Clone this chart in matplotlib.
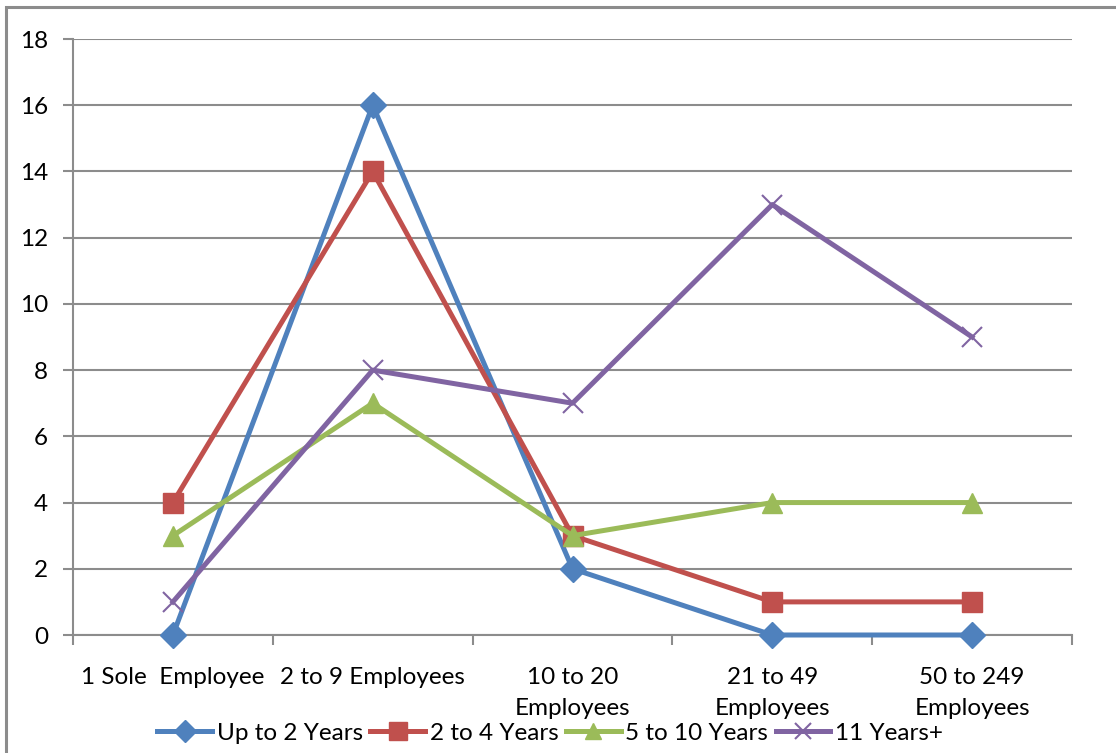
import matplotlib
matplotlib.use("Agg")
import matplotlib.pyplot as plt
from matplotlib.patches import Rectangle

categories = ["1 Sole  Employee", "2 to 9 Employees", "10 to 20\nEmployees",
              "21 to 49\nEmployees", "50 to 249\nEmployees"]
up_to_2 = [0, 16, 2, 0, 0]
two_to_4 = [4, 14, 3, 1, 1]
five_to_10 = [3, 7, 3, 4, 4]
eleven_plus = [1, 8, 7, 13, 9]
y_ticks = [0, 2, 4, 6, 8, 10, 12, 14, 16, 18]

plt.rcParams["font.family"] = ["Lato", "DejaVu Sans"]
FS = 17.5

fig = plt.figure(figsize=(11.16, 7.53), dpi=100)
ax = fig.add_axes([73 / 1116, 1 - 635 / 753, (1072 - 73) / 1116, (635 - 39) / 753])

grid_c = "#8c8c8c"
x = list(range(len(categories)))
series = [
    ("Up to 2 Years", up_to_2, "#4F81BD", "D", 13),
    ("2 to 4 Years", two_to_4, "#C0504D", "s", 14.5),
    ("5 to 10 Years", five_to_10, "#9BBB59", "^", 14),
    ("11 Years+", eleven_plus, "#8064A2", "x", 14),
]
for name, vals, col, mk, ms in series:
    kw = dict(markeredgewidth=1.5) if mk == "x" else dict(markeredgecolor=col)
    ax.plot(x, vals, color=col, lw=3.6, marker=mk, markersize=ms,
            markerfacecolor=col, label=name, zorder=3, clip_on=False, **kw)

ax.set_xlim(-0.5, 4.5)
ax.set_ylim(0, 18)
ax.set_yticks(y_ticks)
ax.yaxis.grid(True, color=grid_c, lw=1.5)
ax.set_axisbelow(True)
for s in ("top", "right"):
    ax.spines[s].set_visible(False)
for s in ("left", "bottom"):
    ax.spines[s].set_color(grid_c)
    ax.spines[s].set_linewidth(1.5)

ax.tick_params(axis="y", direction="out", length=7, width=1.5, color=grid_c,
               labelsize=FS, pad=11)
ax.set_xticks(x)
ax.set_xticklabels(categories, fontsize=FS, linespacing=1.6, va="top")
ax.tick_params(axis="x", which="major", length=0, pad=23)
ax.set_xticks([i - 0.5 for i in range(len(categories) + 1)], minor=True)
ax.tick_params(axis="x", which="minor", direction="out", length=7, width=1.5,
               color=grid_c)

leg = fig.legend(loc="center", bbox_to_anchor=(0.493, 1 - 733 / 753), ncol=4,
                 frameon=False, fontsize=FS, handlelength=2.25, handletextpad=0.2,
                 columnspacing=0.3, borderaxespad=0, markerscale=0.85)

fig.patches.append(Rectangle((5.5 / 1116, -0.2), 1.5, 1.2 - 6.5 / 753,
                             transform=fig.transFigure, fill=False,
                             edgecolor="#8c8c8c", lw=2.2, zorder=0))

fig.savefig("out.png", dpi=100, facecolor="white")
